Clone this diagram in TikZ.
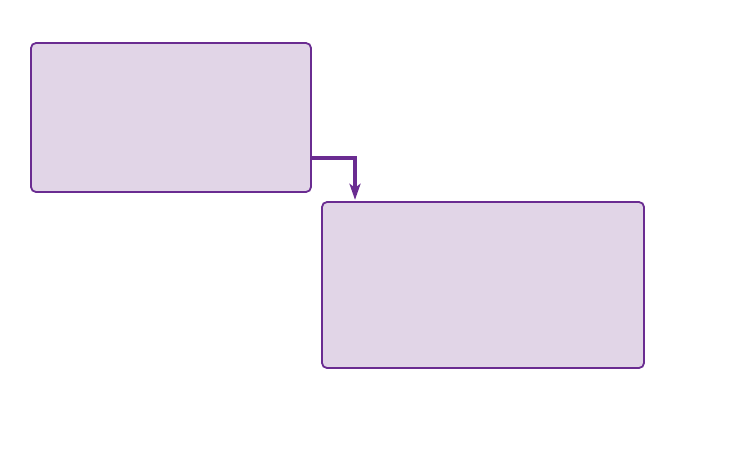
\documentclass[tikz,border=0pt]{standalone}
\usetikzlibrary{arrows.meta}
\definecolor{boxfill}{HTML}{E1D5E7}
\definecolor{boxline}{HTML}{6A2C91}
\begin{document}
\begin{tikzpicture}[x=1pt,y=-1pt,
  panel/.style={draw=boxline,fill=boxfill,line width=1.8pt,rounded corners=5pt},
  link/.style={draw=boxline,line width=3.5pt,shorten >=2pt,-{Stealth[length=16pt,width=11pt,inset=4pt]}}]
\useasboundingbox (0,0) rectangle (730,467);
\fill[white] (0,0) rectangle (730,467);
\draw[panel] (31,43) rectangle (311,192);
\node[inner sep=0,minimum width=280pt,minimum height=149pt] (a) at (171,117.5) {};
\draw[panel] (322,202) rectangle (644,368);
\node[inner sep=0,minimum width=322pt,minimum height=166pt] (b) at (483,285) {};
\coordinate (bend) at (355,158);
\draw[link] (a.east |- bend) -- (bend) -- (bend |- b.north);
\end{tikzpicture}
\end{document}
